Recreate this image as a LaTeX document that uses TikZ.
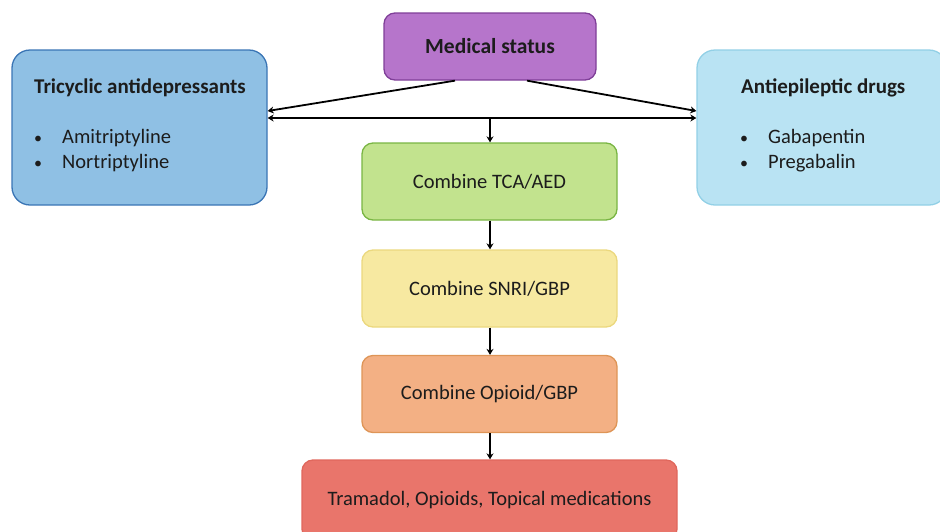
\documentclass[tikz,border=0pt]{standalone}
\usepackage{fontspec}
\setmainfont{Carlito}
\usetikzlibrary{arrows.meta}
\definecolor{purpleF}{HTML}{B675CB}\definecolor{purpleD}{HTML}{7F3F98}
\definecolor{tcaF}{HTML}{8FC0E4}\definecolor{tcaD}{HTML}{3A75B5}
\definecolor{aedF}{HTML}{B9E3F3}\definecolor{aedD}{HTML}{92D0E6}
\definecolor{greenF}{HTML}{C2E38E}\definecolor{greenD}{HTML}{79B543}
\definecolor{yelF}{HTML}{F7E9A1}\definecolor{yelD}{HTML}{EBD87E}
\definecolor{oraF}{HTML}{F3B084}\definecolor{oraD}{HTML}{DE9557}
\definecolor{redF}{HTML}{E9756B}\definecolor{redD}{HTML}{E0675C}
\definecolor{txt}{HTML}{1C1C1C}
\newcommand{\bodyfont}{\fontsize{20.5}{24}\selectfont}
\tikzset{
  box/.style={draw, line width=1.3pt, rounded corners=11pt, inner sep=0pt, text=txt,
    font=\bodyfont},
  sidebox/.style={box, rounded corners=18pt},
  lbl/.style={inner sep=0pt, anchor=base west, text=txt, font=\bodyfont},
  bul/.style={inner sep=0pt, anchor=base west, text=txt, font=\fontsize{16}{19}\selectfont},
  arr/.style={line width=1.8pt, -{Stealth[length=6pt,width=7pt]}},
  darr/.style={line width=1.8pt, {Stealth[length=6pt,width=7pt]}-{Stealth[length=6pt,width=7pt]}}
}
\begin{document}
\begin{tikzpicture}[x=1pt,y=-1pt]
\useasboundingbox (0,0) rectangle (940,531);
\node[box, fill=purpleF, draw=purpleD, minimum width=212pt, minimum height=67pt, font=\fontsize{21.5}{24}\selectfont\bfseries] (ms) at (490,46.5) {Medical status};
\node[sidebox, fill=tcaF, draw=tcaD, minimum width=255pt, minimum height=155pt] (tca) at (139.5,127.5) {};
\node[sidebox, fill=aedF, draw=aedD, minimum width=250pt, minimum height=155pt] (aed) at (822,127.5) {};
\node[lbl, font=\fontsize{21}{24}\selectfont\bfseries] (t1) at (34,93) {Tricyclic antidepressants};
\node[bul] (t2) at (34,143) {•};
\node[lbl] (t3) at (62,143) {Amitriptyline};
\node[bul] (t4) at (34,168.5) {•};
\node[lbl] (t5) at (62,168.5) {Nortriptyline};
\node[lbl, font=\fontsize{21}{24}\selectfont\bfseries] (a1) at (741,93) {Antiepileptic drugs};
\node[bul] (a2) at (740,143) {•};
\node[lbl] (a3) at (768,143) {Gabapentin};
\node[bul] (a4) at (740,168.5) {•};
\node[lbl] (a5) at (768,168.5) {Pregabalin};
\node[box, fill=greenF, draw=greenD, minimum width=255pt, minimum height=77pt] (c1) at (489.5,181.5) {Combine TCA/AED};
\node[box, fill=yelF, draw=yelD, minimum width=255pt, minimum height=77pt] (c2) at (489.5,288.5) {Combine SNRI/GBP};
\node[box, fill=oraF, draw=oraD, minimum width=255pt, minimum height=77pt] (c3) at (489.5,394) {Combine Opioid/GBP};
\node[box, fill=redF, draw=redD, minimum width=375pt, minimum height=80pt] (tr) at (489.5,500) {Tramadol, Opioids, Topical medications};
\coordinate (j) at (490,118);
\draw[arr] ([xshift=-35pt]ms.south) -- (tca.east |- 0,111);
\draw[arr] ([xshift=37pt]ms.south) -- (aed.west |- 0,111);
\draw[darr] (tca.east |- j) -- (aed.west |- j);
\draw[arr] (j) -- (c1.north -| j);
\draw[arr] (c1.south -| j) -- (c2.north -| j);
\draw[arr] (c2.south -| j) -- (c3.north -| j);
\draw[arr] (c3.south -| j) -- (tr.north -| j);
\end{tikzpicture}
\end{document}
